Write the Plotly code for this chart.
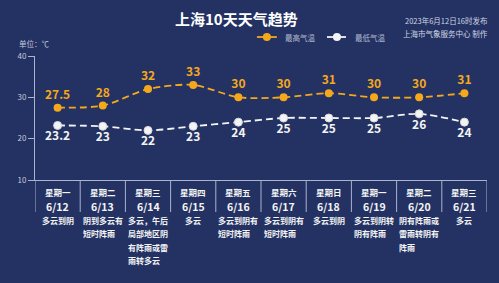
import plotly.graph_objects as go

days = ["星期一", "星期二", "星期三", "星期四", "星期五", "星期六", "星期日", "星期一", "星期二", "星期三"]
dates = ["6/12", "6/13", "6/14", "6/15", "6/16", "6/17", "6/18", "6/19", "6/20", "6/21"]
high = [27.5, 28, 32, 33, 30, 30, 31, 30, 30, 31]
low = [23.2, 23, 22, 23, 24, 25, 25, 25, 26, 24]
weather = [
    ["多云到阴"],
    ["阴到多云有", "短时阵雨"],
    ["多云，午后", "局部地区阴", "有阵雨或雷", "雨转多云"],
    ["多云"],
    ["多云到阴有", "短时阵雨"],
    ["多云到阴有", "短时阵雨"],
    ["多云到阴"],
    ["多云到阴转", "阴有阵雨"],
    ["阴有阵雨或", "雷雨转阴有", "阵雨"],
    ["多云"],
]
yticks = [10, 20, 30, 40]

BG = "#233263"
ORANGE = "#f5a81c"
WHITE = "#f4f4f4"
AXIS = "#aab3cf"
FONT = "Microsoft YaHei, Noto Sans CJK SC, sans-serif"

xs = [i + 0.5 for i in range(len(days))]

fig = go.Figure()
fig.add_trace(go.Scatter(
    x=xs, y=high, mode="lines+markers+text",
    text=[str(v) for v in high], textposition="top center",
    textfont=dict(color=ORANGE, size=12, family=FONT, weight="bold"),
    line=dict(color=ORANGE, width=1.8, dash="7px,4px", shape="spline", smoothing=0.8),
    marker=dict(color=ORANGE, size=8), showlegend=False, cliponaxis=False,
))
fig.add_trace(go.Scatter(
    x=xs, y=low, mode="lines+markers+text",
    text=[str(v) for v in low], textposition="bottom center",
    textfont=dict(color=WHITE, size=12, family=FONT, weight="bold"),
    line=dict(color=WHITE, width=1.8, dash="7px,4px", shape="spline", smoothing=0.8),
    marker=dict(color=WHITE, size=8, line=dict(color="#d8d8d8", width=1)), showlegend=False, cliponaxis=False,
))

shapes = []
for i in range(len(days) + 1):
    shapes.append(dict(type="line", xref="x", yref="paper", x0=i, x1=i, y0=0, y1=-0.258,
                       line=dict(color=AXIS, width=1)))

annotations = []
for i, (d, dt, w) in enumerate(zip(days, dates, weather)):
    annotations.append(dict(x=xs[i], y=0, xref="x", yref="paper", text=d, showarrow=False,
                            yanchor="middle", yshift=-12,
                            font=dict(color=WHITE, size=8.5, family=FONT, weight="bold")))
    annotations.append(dict(x=xs[i], y=0, xref="x", yref="paper", text=dt, showarrow=False,
                            yanchor="middle", yshift=-26,
                            font=dict(color=WHITE, size=10.5, family=FONT, weight="bold")))
    width_lines = max(len(s) for s in w)
    for j, line in enumerate(w):
        annotations.append(dict(x=xs[i], y=0, xref="x", yref="paper", text=line, showarrow=False,
                                yanchor="middle", yshift=-40 - 13.6 * j,
                                xanchor="center",
                                xshift=-(width_lines - len(line)) * 4.0 if len(w) > 1 else 0,
                                font=dict(color=WHITE, size=8, family=FONT, weight="bold")))

# title and header texts
annotations.append(dict(x=0.446, y=1, xref="paper", yref="paper", yshift=38, yanchor="middle",
                        text="上海10天天气趋势", showarrow=False,
                        font=dict(color="white", size=15, family=FONT, weight="bold")))
annotations.append(dict(x=1, y=1, xref="paper", yref="paper", xanchor="right", xshift=3, yshift=36,
                        yanchor="middle", text="2023年6月12日16时发布", showarrow=False,
                        font=dict(color="#d2d6e2", size=7.5, family=FONT)))
annotations.append(dict(x=1, y=1, xref="paper", yref="paper", xanchor="right", xshift=3, yshift=23,
                        yanchor="middle", text="上海市气象服务中心 制作", showarrow=False,
                        font=dict(color="#d2d6e2", size=7.5, family=FONT)))
annotations.append(dict(x=0, y=1, xref="paper", yref="paper", xanchor="left", xshift=-18, yshift=13,
                        yanchor="middle", text="单位：℃", showarrow=False,
                        font=dict(color="#c4c9da", size=7.5, family=FONT)))

# legend
ly = 1.153
for (x0, x1, cx, tx, col, label) in [(0.491, 0.535, 0.513, 0.549, ORANGE, "最高气温"),
                                     (0.646, 0.688, 0.668, 0.703, WHITE, "最低气温")]:
    shapes.append(dict(type="line", xref="paper", yref="paper", x0=x0, x1=x1, y0=ly, y1=ly,
                       line=dict(color=col, width=1.8)))
    shapes.append(dict(type="circle", xref="paper", yref="paper", xsizemode="pixel", ysizemode="pixel",
                       xanchor=cx, yanchor=ly, x0=-4, x1=4, y0=-4, y1=4,
                       fillcolor=col, line=dict(color=col, width=0)))
    annotations.append(dict(x=tx, y=ly, xref="paper", yref="paper", xanchor="left", yanchor="middle",
                            text=label, showarrow=False,
                            font=dict(color="#b4bad0", size=7.5, family=FONT)))

fig.update_layout(
    width=499, height=283,
    margin=dict(l=35, r=12, t=56, b=103),
    paper_bgcolor=BG, plot_bgcolor=BG,
    shapes=shapes, annotations=annotations,
    xaxis=dict(range=[0, 10], showgrid=False, zeroline=False, showticklabels=False,
               showline=True, linecolor=AXIS, linewidth=1, fixedrange=True),
    yaxis=dict(range=[10, 40], tickvals=yticks, showgrid=False, zeroline=False,
               showline=True, linecolor=AXIS, linewidth=1, ticks="outside", ticklen=6,
               tickcolor=AXIS, tickfont=dict(color="#c4c9da", size=8, family=FONT)),
    font=dict(family=FONT),
)

fig.write_html("out.html", config={"displayModeBar": False})
